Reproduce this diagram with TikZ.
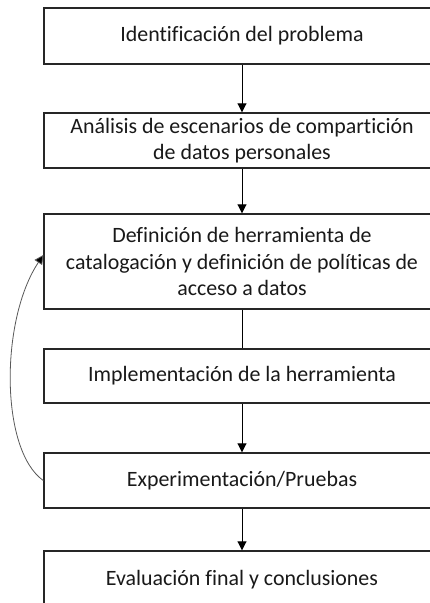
\documentclass[tikz,border=0pt]{standalone}
\usepackage{fontspec}
\setmainfont{Carlito}[Ligatures={NoCommon}]
\usetikzlibrary{arrows.meta}
\begin{document}
\begin{tikzpicture}[x=1pt,y=-1pt,
  stepbox/.style={draw=black!85, line width=1.4pt, fill=white, minimum width=396pt,
    align=center, inner sep=0pt, font=\fontsize{21.9}{26.6}\selectfont, text=black!90},
  flow/.style={draw=black, line width=0.9pt, -{Triangle[width=9pt,length=9pt]}},
  plain/.style={draw=black, line width=0.9pt},
  loop/.style={draw=black!65, line width=0.8pt, -{Triangle[width=9pt,length=9pt,fill=black]}}]
\useasboundingbox (0,0) rectangle (430,603);
\fill[white] (0,0) rectangle (430,603);
\clip (0,0) rectangle (430,603);
\node[stepbox, minimum height=56pt] (b1) at (242,36) {Identificación del problema};
\node[stepbox, minimum height=55pt] (b2) at (242,140.5) {Análisis de escenarios de compartición\\de datos personales};
\node[stepbox, minimum height=95pt] (b3) at (242,261.5) {Definición de herramienta de\\catalogación y definición de políticas de\\acceso a datos};
\node[stepbox, minimum height=54pt] (b4) at (242,376) {Implementación de la herramienta};
\node[stepbox, minimum height=55pt] (b5) at (242,480.5) {Experimentación/Pruebas};
\node[stepbox, minimum height=58pt] (b6) at (242,580) {Evaluación final y conclusiones};
\draw[flow] (b1) -- (b2);
\draw[flow] (b2) -- (b3);
\draw[plain] (b3) -- (b4);
\draw[flow] (b4) -- (b5);
\draw[flow] (b5) -- (b6);
\draw[loop] (b5.west) .. controls (0,450) and (0,320) .. ([yshift=6.5pt]b3.west);
\end{tikzpicture}
\end{document}
